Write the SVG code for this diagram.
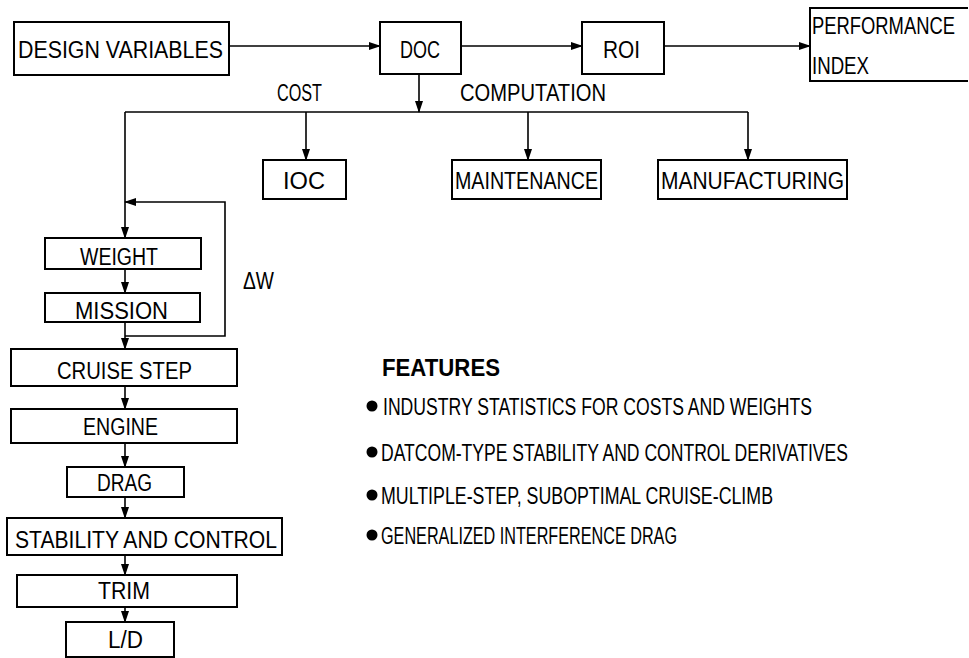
<svg xmlns="http://www.w3.org/2000/svg" width="969" height="658" viewBox="0 0 969 658">
<style>
.box{fill:#fff;stroke:#000;stroke-width:2}
.t{font-family:"Liberation Sans",Arial,sans-serif;font-size:23px;fill:#000}
.c{fill:none;stroke:#000;stroke-width:1.6}
.f{font-family:"Liberation Sans",Arial,sans-serif;font-size:24px;font-weight:bold;fill:#000}
</style>
<defs>
<marker id="ah" markerWidth="12" markerHeight="8" refX="11" refY="4" orient="auto" markerUnits="userSpaceOnUse">
<path d="M0,0 L12,4 L0,8 Z" fill="#000"/>
</marker>
</defs>
<rect width="969" height="658" fill="#fff"/>
<g id="connectors">
<line class="c" x1="229" y1="46" x2="380" y2="46" marker-end="url(#ah)"/>
<line class="c" x1="461" y1="46" x2="582" y2="46" marker-end="url(#ah)"/>
<line class="c" x1="664" y1="46" x2="810" y2="46" marker-end="url(#ah)"/>
<line class="c" x1="419" y1="74" x2="419" y2="112" marker-end="url(#ah)"/>
<line class="c" x1="125" y1="112" x2="748" y2="112"/>
<line class="c" x1="306" y1="112" x2="306" y2="160" marker-end="url(#ah)"/>
<line class="c" x1="528" y1="112" x2="528" y2="160" marker-end="url(#ah)"/>
<line class="c" x1="748" y1="112" x2="748" y2="160" marker-end="url(#ah)"/>
<line class="c" x1="125" y1="112" x2="125" y2="238" marker-end="url(#ah)"/>
<polyline class="c" points="125,336 225,336 225,202 125,202" marker-end="url(#ah)"/>
<line class="c" x1="125" y1="269" x2="125" y2="293" marker-end="url(#ah)"/>
<line class="c" x1="125" y1="322" x2="125" y2="349" marker-end="url(#ah)"/>
<line class="c" x1="125" y1="386" x2="125" y2="409" marker-end="url(#ah)"/>
<line class="c" x1="125" y1="443" x2="125" y2="467" marker-end="url(#ah)"/>
<line class="c" x1="125" y1="497" x2="125" y2="518" marker-end="url(#ah)"/>
<line class="c" x1="125" y1="555" x2="125" y2="575" marker-end="url(#ah)"/>
<line class="c" x1="125" y1="607" x2="125" y2="622" marker-end="url(#ah)"/>
<text class="t" x="277" y="101" textLength="45" lengthAdjust="spacingAndGlyphs">COST</text>
<text class="t" x="460" y="101" textLength="146" lengthAdjust="spacingAndGlyphs">COMPUTATION</text>
<text class="t" x="243" y="289" textLength="31" lengthAdjust="spacingAndGlyphs">ΔW</text>
</g>
<g id="design-variables"><rect class="box" x="14" y="22" width="215" height="53"/><text class="t" x="18" y="58" textLength="205" lengthAdjust="spacingAndGlyphs">DESIGN VARIABLES</text></g>
<g id="doc"><rect class="box" x="380" y="22" width="81" height="52"/><text class="t" x="400" y="58" textLength="40" lengthAdjust="spacingAndGlyphs">DOC</text></g>
<g id="roi"><rect class="box" x="582" y="22" width="82" height="52"/><text class="t" x="603" y="58" textLength="37" lengthAdjust="spacingAndGlyphs">ROI</text></g>
<g id="performance-index"><path class="box" d="M968,8 H810 V81 H968"/><text class="t" x="812" y="34" textLength="143" lengthAdjust="spacingAndGlyphs">PERFORMANCE</text><text class="t" x="812" y="74" textLength="57" lengthAdjust="spacingAndGlyphs">INDEX</text></g>
<g id="ioc"><rect class="box" x="263" y="160" width="83" height="39"/><text class="t" x="283" y="189" textLength="42" lengthAdjust="spacingAndGlyphs">IOC</text></g>
<g id="maintenance"><rect class="box" x="452" y="160" width="149" height="39"/><text class="t" x="455" y="189" textLength="143" lengthAdjust="spacingAndGlyphs">MAINTENANCE</text></g>
<g id="manufacturing"><rect class="box" x="658" y="160" width="189" height="39"/><text class="t" x="661" y="189" textLength="183" lengthAdjust="spacingAndGlyphs">MANUFACTURING</text></g>
<g id="weight"><rect class="box" x="45" y="238" width="156" height="31"/><text class="t" x="80" y="265" textLength="78" lengthAdjust="spacingAndGlyphs">WEIGHT</text></g>
<g id="mission"><rect class="box" x="45" y="293" width="155" height="29"/><text class="t" x="75" y="319" textLength="93" lengthAdjust="spacingAndGlyphs">MISSION</text></g>
<g id="cruise-step"><rect class="box" x="11" y="349" width="226" height="37"/><text class="t" x="57" y="379" textLength="135" lengthAdjust="spacingAndGlyphs">CRUISE STEP</text></g>
<g id="engine"><rect class="box" x="11" y="409" width="226" height="34"/><text class="t" x="83" y="435" textLength="75" lengthAdjust="spacingAndGlyphs">ENGINE</text></g>
<g id="drag"><rect class="box" x="67" y="467" width="117" height="30"/><text class="t" x="97" y="491" textLength="55" lengthAdjust="spacingAndGlyphs">DRAG</text></g>
<g id="stability-and-control"><rect class="box" x="7" y="518" width="275" height="37"/><text class="t" x="15" y="548" textLength="262" lengthAdjust="spacingAndGlyphs">STABILITY AND CONTROL</text></g>
<g id="trim"><rect class="box" x="17" y="575" width="220" height="32"/><text class="t" x="98" y="599" textLength="52" lengthAdjust="spacingAndGlyphs">TRIM</text></g>
<g id="l-d"><rect class="box" x="66" y="622" width="108" height="35"/><text class="t" x="108" y="648" textLength="35" lengthAdjust="spacingAndGlyphs">L/D</text></g>
<g id="features">
<text class="f" x="382" y="376" textLength="118" lengthAdjust="spacingAndGlyphs">FEATURES</text>
<circle cx="372" cy="406" r="5.5"/>
<text class="t" x="383" y="415" textLength="429" lengthAdjust="spacingAndGlyphs">INDUSTRY STATISTICS FOR COSTS AND WEIGHTS</text>
<circle cx="372" cy="452" r="5.5"/>
<text class="t" x="381" y="461" textLength="467" lengthAdjust="spacingAndGlyphs">DATCOM-TYPE STABILITY AND CONTROL DERIVATIVES</text>
<circle cx="372" cy="495" r="5.5"/>
<text class="t" x="381" y="504" textLength="392" lengthAdjust="spacingAndGlyphs">MULTIPLE-STEP, SUBOPTIMAL CRUISE-CLIMB</text>
<circle cx="372" cy="535" r="5.5"/>
<text class="t" x="381" y="544" textLength="296" lengthAdjust="spacingAndGlyphs">GENERALIZED INTERFERENCE DRAG</text>
</g>
</svg>
